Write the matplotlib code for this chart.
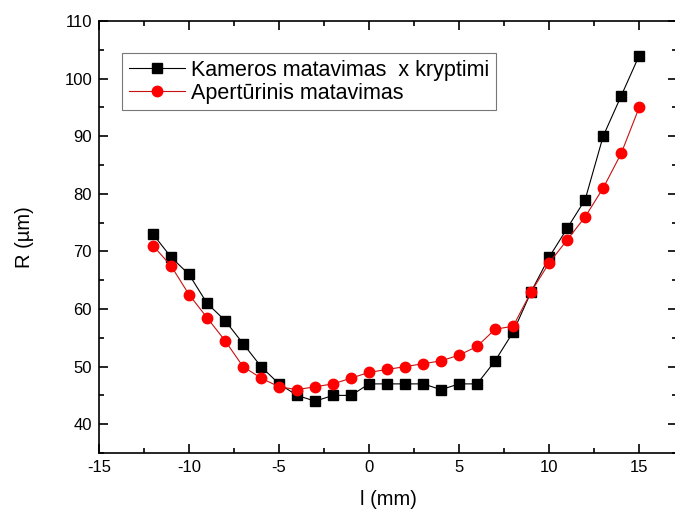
import numpy as np
import matplotlib
matplotlib.use("Agg")
import matplotlib.pyplot as plt
from matplotlib.ticker import MultipleLocator

plt.rcParams['font.family'] = ['Liberation Sans', 'DejaVu Sans']
plt.rcParams['axes.unicode_minus'] = False

# data
l_mm = np.arange(-12, 16)
kamera = [73, 69, 66, 61, 58, 54, 50, 47, 45, 44, 45, 45, 47, 47, 47, 47,
          46, 47, 47, 51, 56, 63, 69, 74, 79, 90, 97, 104]
apertura = [71, 67.5, 62.5, 58.5, 54.5, 50, 48, 46.5, 46, 46.5, 47, 48, 49, 49.5,
            50, 50.5, 51, 52, 53.5, 56.5, 57, 63, 68, 72, 76, 81, 87, 95]
labels = ["Kameros matavimas  x kryptimi", "Apertūrinis matavimas"]

FONT_SIZE = 12

fig = plt.figure(figsize=(6.75, 5.13), dpi=100)
ax = fig.add_axes([99 / 675, 1 - 453 / 513, 578 / 675, 432 / 513])

ax.plot(l_mm, kamera, color='black', lw=0.8, marker='s', ms=6.5, mfc='black', mec='black', label=labels[0])
ax.plot(l_mm, apertura, color='#c81010', lw=0.8, marker='o', ms=7.5, mfc='#ff0000', mec='#ff0000', label=labels[1])

ax.set_xlim(-15, 17.1)
ax.set_ylim(35, 110)
ax.xaxis.set_major_locator(MultipleLocator(5))
ax.xaxis.set_minor_locator(MultipleLocator(2.5))
ax.yaxis.set_major_locator(MultipleLocator(10))
ax.yaxis.set_minor_locator(MultipleLocator(5))
ax.tick_params(which='both', direction='in', top=True, right=True, labelsize=FONT_SIZE, width=1.2)
ax.tick_params(which='major', length=6.5, pad=5)
ax.tick_params(which='minor', length=3.5)
ax.set_yticks([40, 50, 60, 70, 80, 90, 100, 110])
for s in ax.spines.values():
    s.set_linewidth(1.2)

ax.set_xlabel("l (mm)", fontsize=14.5, labelpad=11)
ax.set_ylabel("R (\u00b5m)", fontsize=14.5, labelpad=22)

leg = ax.legend(loc='upper left', bbox_to_anchor=(0.04, 0.925), fontsize=15.5, frameon=True,
                fancybox=False, edgecolor='#555555', handlelength=2.6, handletextpad=0.3,
                borderpad=0.3, labelspacing=0.1, borderaxespad=0)
leg.get_frame().set_linewidth(0.8)

fig.savefig("out.png", dpi=100)
